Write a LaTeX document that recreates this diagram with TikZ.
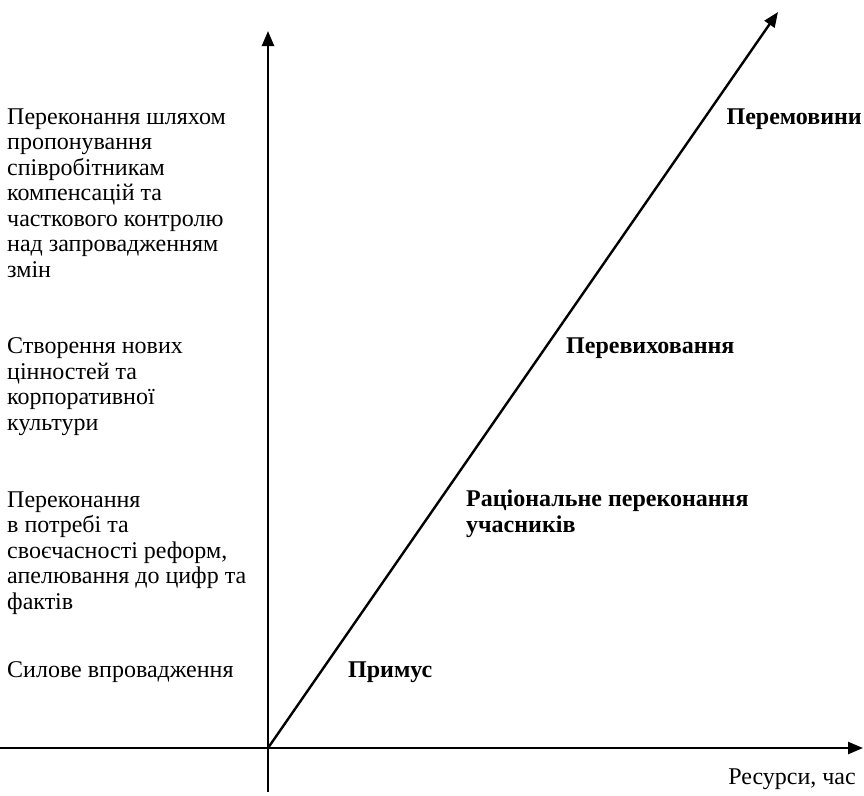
\documentclass[tikz,border=0pt]{standalone}
\usepackage{fontspec}
\setmainfont{Liberation Serif}
\usetikzlibrary{arrows.meta,positioning}

\begin{document}
\begin{tikzpicture}[x=1pt, y=-1pt,
    axis/.style={line width=2.4pt, -{Triangle[length=15pt, width=12pt]}},
    method/.style={anchor=base west, align=left, inner sep=0pt,
      font=\fontsize{24}{25.5}\selectfont},
    stage/.style={method, font=\fontsize{24}{25.5}\selectfont\bfseries}]
    \useasboundingbox (0, 0) rectangle (864, 795);

    % Axes
    \coordinate (O) at (268, 748);
    \coordinate (ybot) at (268, 792);
    \coordinate (ytop) at (268, 31);
    \coordinate (xbeg) at (0, 748);
    \coordinate (xend) at (863, 748);
    \coordinate (dend) at (778, 12);
    \draw[axis] (ybot) -- (ytop);
    \draw[axis] (xbeg) -- (xend);
    \draw[axis] (O) -- (dend);

    % Methods of implementing change (base = last line)
    \node[method] (talks) at (7, 277) {Переконання шляхом\\пропонування\\співробітникам\\компенсацій та\\часткового контролю\\над запровадженням\\змін};
    \node[method] (values) at (7, 430) {Створення нових\\цінностей та\\корпоративної\\культури};
    \node[method] (reason) at (7, 609) {Переконання\\в потребі та\\своєчасності реформ,\\апелювання до цифр та\\фактів};
    \node[method] (force) at (7, 677) {Силове впровадження};

    % Stages along the diagonal
    \node[stage, anchor=base east] (negot) at (862, 124) {Перемовини};
    \node[stage] (reedu) at (566, 353) {Перевиховання};
    \node[stage] (ration) at (466, 532) {Раціональне переконання\\учасників};
    \node[stage] (coerc) at (348, 677) {Примус};

    % Axis label
    \node[method, anchor=base east] (res) at (856, 784) {Ресурси, час};
\end{tikzpicture}
\end{document}
